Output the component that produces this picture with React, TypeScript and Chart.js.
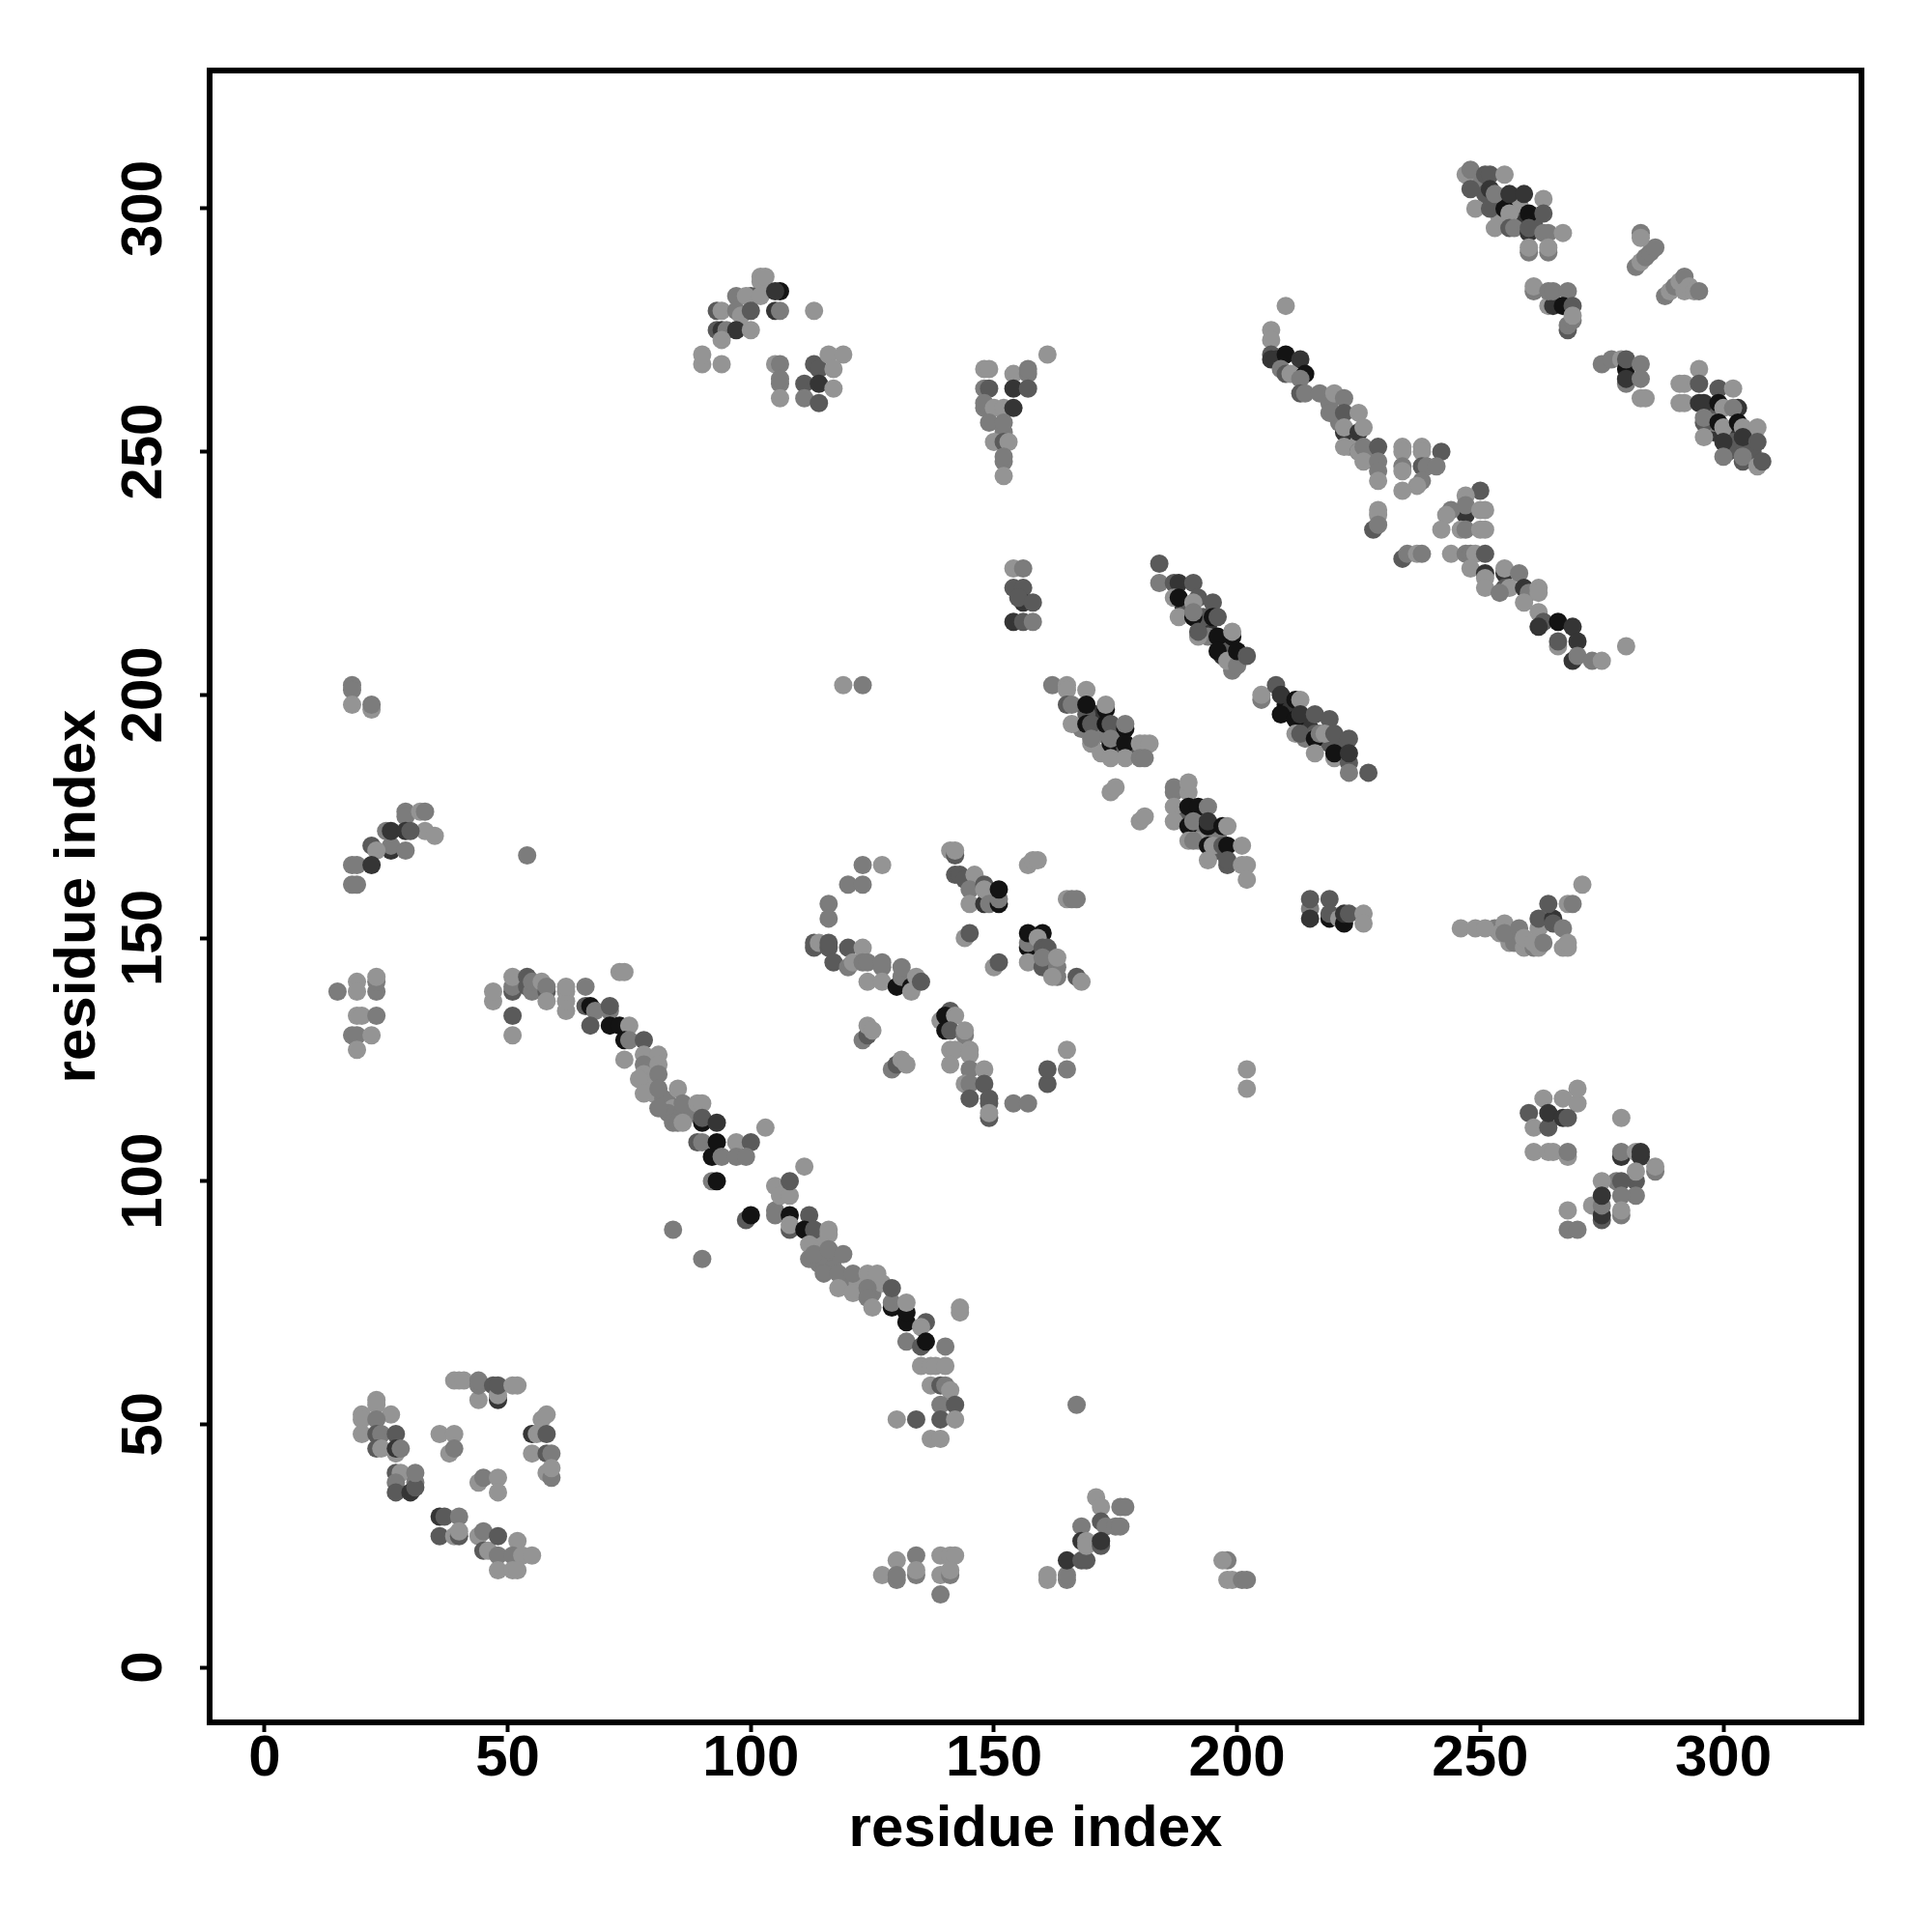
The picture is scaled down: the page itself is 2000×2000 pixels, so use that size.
import React, { useEffect, useRef } from "react";
import { Chart, registerables, LinearScale } from "chart.js";

const xTickValues = [0, 50, 100, 150, 200, 250, 300];
const yTickValues = [0, 50, 100, 150, 200, 250, 300];
const axisLabel = "residue index";
const axisMin = -11.3;
const axisMax = 328.4;
const shades = ["#949494", "#7c7c7c", "#5a5a5a", "#353535", "#131313"];

// every entry: [residue, residue, contact level], listed in drawing order
const denseFill = [[250,305,1],[251,303,2],[254,301,1],[255,302,1],[256,301,3],[258,298,2],[259,297,3],[261,297,2],[258,301,0],[254,298,0],[297,258,1],[298,258,2],[298,254,3],[301,254,3],[302,252,2],[301,250,2],[305,250,2],[306,250,2],[298,256,1],[219,260,1],[221,256,1],[223,253,0],[224,252,0],[227,249,1],[223,251,0],[189,218,3],[190,218,2],[193,214,4],[194,214,3],[197,211,4],[198,210,4],[193,216,2],[194,212,1],[197,208,3],[198,209,2],[210,198,4],[211,197,3],[214,194,3],[215,193,3],[218,192,3],[221,190,3],[219,190,2],[222,189,2],[216,192,2],[214,191,1],[171,196,3],[175,193,1],[172,192,1],[175,189,1],[172,188,0],[178,188,2],[168,193,1],[176,191,1],[189,175,2],[192,172,2],[193,171,1],[196,171,1],[188,176,2],[192,170,0],[196,168,2],[79,120,0],[80,118,0],[83,116,1],[82,117,1],[84,115,0],[87,114,0],[88,114,1],[79,124,1],[83,114,1],[86,114,1],[113,88,1],[114,87,0],[115,85,0],[117,84,1],[114,83,1],[117,82,1],[120,80,1],[122,79,0],[125,77,1],[127,79,0],[253,152,1],[254,151,0],[256,149,0],[257,149,1],[259,148,0],[261,148,1],[262,148,0],[267,148,0],[262,152,0]];
const topRight = [[247,307,0],[248,308,1],[248,304,2],[249,300,0],[251,307,2],[252,307,2],[255,307,0],[252,304,3],[252,300,2],[255,300,4],[253,303,1],[256,303,3],[259,303,3],[263,302,0],[256,299,0],[260,299,4],[263,299,2],[253,296,0],[256,296,2],[257,296,1],[260,295,3],[260,296,2],[263,295,1],[264,295,1],[267,295,0],[260,291,1],[260,292,0],[264,291,1],[264,292,0]];
const topRight2 = [[261,283,1],[261,284,0],[264,280,0],[265,280,3],[264,283,1],[265,283,1],[268,283,1],[267,280,4],[269,280,2],[268,275,2],[268,276,1],[269,277,1],[269,278,0]];
const wedgeA = [[282,288,1],[283,289,0],[284,290,1],[285,291,1],[286,292,1],[283,295,1],[283,294,0]];
const wedgeB = [[288,282,1],[289,283,0],[290,284,1],[291,285,0],[292,286,1],[292,283,0],[293,284,0],[294,283,0],[295,283,1]];
const rightMid = [[275,268,1],[277,269,1],[279,269,0],[280,267,4],[280,264,1],[280,265,3],[280,269,2],[283,268,1],[283,265,1],[283,261,0],[284,261,0]];
const rightLow = [[295,267,0],[291,264,0],[292,264,0],[295,264,2],[299,263,2],[302,263,0],[291,260,0],[292,260,0],[295,260,3],[296,260,3],[299,260,4],[300,259,0],[303,259,3],[302,259,1],[296,256,2],[296,257,1],[296,253,0],[299,256,4],[300,255,0],[303,256,4],[304,255,0],[307,255,0],[300,252,3],[304,252,2],[304,253,3],[307,252,2],[300,249,1],[304,248,2],[304,249,1],[307,247,0],[308,248,2]];
const longDiagTop = [[210,280,0],[207,275,0],[207,273,0],[207,270,2],[207,269,3],[208,269,3],[210,270,4],[213,269,3],[209,267,1],[210,266,2],[211,266,0],[214,266,4],[213,265,1],[213,262,2],[214,262,1],[217,262,1],[220,262,0],[222,261,1],[219,258,1],[222,258,2],[225,258,0],[222,254,3],[222,255,0],[225,254,3],[226,255,0],[222,251,0],[225,250,2],[225,250,0],[226,251,1],[226,248,0],[229,251,2],[229,248,1],[229,246,1],[229,244,0]];
const centerPatch = [[234,251,0],[234,250,0],[238,251,0],[238,250,0],[242,250,2],[234,247,1],[234,246,0],[238,247,2],[239,247,1],[241,247,1],[238,244,1],[237,243,0],[234,242,0]];
const stubA = [[229,238,0],[229,237,0],[228,234,2],[229,235,1]];
const stubB = [[234,228,2],[235,229,1],[237,229,0],[238,229,1]];
const bowTie = [[250,242,2],[247,241,0],[247,237,3],[247,239,1],[244,238,1],[243,237,0],[251,238,0],[250,238,0],[242,234,0],[246,234,0],[247,234,1],[250,234,0],[251,234,0]];
const longDiagLow = [[244,229,0],[247,229,1],[248,229,1],[249,229,0],[251,229,2],[248,226,0],[251,225,3],[251,224,0],[251,222,0],[255,225,3],[255,226,0],[258,225,1],[255,222,2],[256,222,0],[254,221,1],[259,222,3],[260,221,1],[262,222,0],[262,221,0],[259,219,0],[262,217,0],[263,215,2],[262,214,3],[266,215,4],[269,214,3],[266,210,0],[266,211,2],[270,211,3],[269,207,3],[270,208,1],[273,207,1],[275,207,0],[280,210,0]];
const stripeA = [[184,227,2],[184,223,1],[187,223,2],[188,223,3],[191,223,2],[187,220,0],[188,220,4],[188,216,0],[192,220,2],[195,219,2],[191,219,0],[191,216,4],[191,217,1],[195,216,4],[196,216,2],[192,212,0],[192,213,2],[196,212,4],[199,212,4],[199,213,0],[196,209,4],[199,205,1],[198,207,0],[200,206,1],[200,209,4],[202,208,2]];
const stripeB = [[205,199,1],[205,200,0],[208,202,2],[209,200,3],[212,199,4],[213,199,0],[209,196,4],[212,195,4],[213,196,3],[216,196,2],[219,195,2],[212,192,0],[213,192,2],[216,191,4],[217,192,1],[218,192,0],[220,192,2],[223,191,2],[216,188,0],[220,187,0],[220,188,4],[223,186,2],[223,188,3],[223,184,1],[227,184,2]];
const stripeC = [[162,202,1],[165,202,0],[165,201,0],[169,201,0],[165,198,2],[166,198,1],[169,196,2],[169,198,4],[173,197,4],[173,198,0],[166,194,0],[169,194,4],[170,194,2],[173,194,4],[174,194,2],[177,193,4],[177,194,1],[170,190,0],[170,191,1],[174,190,4],[174,191,1],[177,189,2],[177,190,4],[180,190,0],[181,190,0],[182,190,0],[174,187,0],[177,187,0],[180,187,1],[181,187,1]];
const dashes = [[174,180,0],[175,181,0],[180,174,0],[181,175,0]];
const stripeD = [[187,180,1],[187,181,1],[190,180,0],[190,182,0],[187,177,0],[190,177,4],[192,177,4],[194,177,1],[187,174,0],[190,173,4],[191,174,1],[194,173,4],[194,174,3],[197,173,4],[198,173,0],[190,170,0],[191,170,1],[194,169,4],[195,169,0],[197,169,2],[198,169,4],[201,169,0],[194,166,0],[198,165,2],[198,166,2],[201,165,0],[202,165,0],[202,162,0]];
const smallRight = [[215,156,1],[215,158,2],[215,154,3],[219,158,2],[219,154,4],[219,155,2],[221,154,0],[222,153,4],[222,155,3],[223,155,2],[226,155,0],[226,153,0]];
const band152 = [[246,152,0],[249,152,0],[251,152,0],[255,153,0],[255,151,1],[258,152,1],[259,150,0],[261,149,0],[263,149,1],[262,154,2],[265,154,3],[265,153,2],[268,157,0],[267,152,1],[264,157,2],[269,157,1],[268,148,0],[268,149,0],[271,161,0]];
const loopLeft = [[123,165,1],[127,165,0],[120,161,1],[123,161,1],[116,157,1],[116,154,1],[113,148,2],[113,149,2],[114,149,0],[116,148,2],[116,149,2],[117,145,2],[120,148,2],[123,148,0],[120,144,1],[121,145,0],[123,145,1],[124,145,1],[124,141,0],[127,144,1],[127,145,1],[127,141,0],[130,140,4],[131,142,1],[131,144,1],[133,140,4],[133,139,0],[134,142,0],[135,141,2]];
const loopTop = [[141,168,0],[142,167,2],[142,168,0],[142,163,2],[143,163,2],[144,162,2],[146,163,0],[145,160,1],[148,161,2],[145,157,0],[148,157,3],[148,160,0],[149,157,1],[151,157,4],[151,158,1],[151,160,4],[144,150,0],[145,151,2],[150,144,0],[151,145,2]];
const loopDashes = [[157,165,0],[158,166,0],[159,166,0],[165,158,0],[166,158,1],[167,158,1]];
const loopRight = [[157,148,4],[157,149,1],[157,151,4],[157,145,0],[160,151,4],[159,150,0],[160,148,2],[161,148,2],[160,144,2],[160,146,1],[163,142,1],[163,144,1],[163,146,0],[162,142,0],[167,142,2],[168,141,0]];
const loopLow = [[123,129,1],[124,130,2],[124,132,0],[125,131,0],[129,123,1],[130,124,2],[131,125,0],[132,124,0],[139,133,0],[141,135,2],[140,134,4],[142,134,0],[140,131,4],[141,131,2],[144,130,1],[144,131,0],[141,127,0],[142,127,0],[145,127,0],[145,126,0],[141,124,0],[145,123,1],[148,123,0],[144,120,0],[145,120,1],[148,120,2],[145,117,2],[149,116,2],[149,117,2],[149,113,2],[149,114,0],[154,116,1],[157,116,1],[161,120,2],[161,123,2],[165,123,1],[165,127,0]];
const helixUpper = [[47,137,0],[47,139,0],[51,139,2],[51,140,1],[51,142,0],[51,134,2],[51,130,0],[54,142,2],[54,140,2],[55,139,1],[55,141,1],[57,141,0],[58,139,2],[58,140,1],[58,137,0],[62,135,0],[62,137,0],[62,139,0],[62,140,0],[66,140,1],[73,143,0],[74,143,0],[66,136,2],[67,136,4],[68,135,1],[71,135,1],[71,136,2],[67,132,2],[71,132,4],[73,132,4],[75,132,0],[74,129,4],[75,129,1],[78,129,2],[74,125,0],[78,126,0],[78,124,1],[78,122,0],[77,121,0],[78,118,0],[81,126,0],[81,124,0],[81,122,1],[81,119,1],[81,115,1],[85,119,0],[84,112,1],[85,112,1],[86,116,1],[89,116,0],[90,116,0],[86,112,0],[90,112,4],[90,113,2],[93,112,3],[89,108,2],[90,108,1],[93,108,4],[97,108,0],[100,108,2],[103,111,0],[92,105,4],[94,105,1],[97,105,1],[99,105,1],[92,100,1],[93,100,4]];
const helixLower = [[84,90,1],[90,84,1],[99,92,2],[100,93,4],[105,94,1],[105,93,1],[105,99,0],[106,97,0],[108,97,0],[108,100,2],[111,103,0],[108,90,2],[108,93,4],[108,91,0],[112,93,2],[111,90,4],[113,90,2],[116,90,0],[116,89,0],[112,87,0],[112,84,1],[113,85,1],[116,86,1],[119,85,1],[115,81,1],[118,81,1],[121,81,1],[124,81,0],[126,81,0],[118,78,0],[121,77,0],[124,78,1],[124,76,1],[125,74,0],[129,74,4],[129,75,1],[129,78,2],[132,71,4],[132,73,4],[132,75,0],[136,71,2],[135,70,0],[132,67,1],[135,66,2],[136,67,4],[140,66,1],[143,73,0],[143,74,0],[135,62,0],[137,62,0],[138,62,0],[140,62,0],[137,58,0],[139,58,2],[140,58,1],[141,57,0],[139,54,1],[142,54,2],[139,51,2],[142,51,0],[130,51,0],[134,51,2],[137,47,0],[139,47,0]];
const bottomLeftA = [[23,55,0],[23,54,0],[20,52,0],[26,52,0],[20,51,0],[23,51,1],[20,48,0],[23,48,2],[24,48,1],[27,48,2],[23,45,2],[24,45,0],[27,44,0],[27,45,3],[28,45,1],[27,40,2],[28,40,0],[27,38,1],[27,36,2],[31,38,1],[30,36,3],[31,37,2],[31,40,1]];
const bottomLeftB = [[36,48,0],[39,48,0],[38,44,0],[39,45,1],[39,59,0],[40,59,0],[41,59,0],[44,55,0],[44,58,1],[44,59,1],[47,58,2],[48,55,3],[48,56,0],[48,58,2],[51,58,0],[52,58,0]];
const bottomLeftC = [[55,48,3],[56,48,0],[57,51,0],[58,52,0],[58,48,2],[55,44,0],[58,44,2],[59,44,1],[58,40,0],[59,39,1],[59,41,0],[44,38,0],[45,39,1],[48,39,0],[48,36,0]];
const bottomLeftD = [[36,31,3],[37,31,2],[40,31,1],[36,27,2],[39,27,0],[40,27,2],[40,28,0],[44,27,0],[45,28,1],[45,24,2],[46,24,0],[48,27,2],[48,23,1],[48,20,0],[52,26,0],[51,23,1],[53,23,0],[55,23,0],[51,20,0],[52,20,0]];
const bottomMid = [[127,19,0],[130,22,0],[130,18,1],[130,19,1],[134,23,1],[134,19,1],[134,20,0],[139,23,0],[139,19,0],[141,23,0],[142,23,0],[141,19,1],[141,20,0],[139,15,1]];
const bottomMid2 = [[161,18,0],[161,19,0],[165,18,1],[165,19,1],[165,22,3],[168,29,1],[168,22,2],[169,22,2],[168,26,3],[169,26,0],[169,25,0],[171,35,0],[172,33,0],[172,30,2],[173,29,1],[172,25,2],[172,26,3],[175,29,1],[176,29,1],[176,33,1],[177,33,1],[198,22,1],[197,22,0],[198,18,0],[199,18,0],[201,18,1],[202,18,1]];
const rightCluster = [[260,114,2],[263,117,0],[267,117,0],[270,116,0],[270,119,0],[261,111,0],[264,111,2],[264,114,3],[267,113,3],[268,113,2],[261,106,0],[264,106,0],[265,106,0],[268,105,0],[268,106,1],[279,113,0],[279,105,3],[279,106,1],[282,106,0],[283,105,3],[283,106,3],[286,102,1],[286,103,0],[282,100,2],[282,102,0],[282,97,1],[278,100,1],[279,100,2],[275,100,0],[279,97,1],[273,95,0],[275,92,2],[275,93,3],[275,95,1],[275,97,3],[279,93,1],[279,94,0],[268,94,0],[268,90,1],[270,90,1]];
const leftEdge = [[18,202,1],[18,201,1],[18,198,0],[22,197,0],[22,198,1],[29,176,1],[29,175,1],[32,176,0],[33,176,1],[33,172,0],[35,171,0],[25,172,1],[26,168,3],[26,169,1],[26,172,3],[29,172,3],[30,172,2],[22,169,2],[23,168,0],[29,168,1],[18,165,1],[19,165,1],[22,165,3],[18,161,1],[19,161,1],[54,167,1],[15,139,1],[19,141,0],[19,139,0],[23,139,1],[23,141,1],[23,142,0],[19,134,0],[20,134,0],[23,134,1],[18,130,1],[19,130,1],[22,130,0],[19,127,0]];
const singles = [[167,54,1],[202,123,0],[202,119,0],[119,202,0],[123,202,1]];
const upperLeftA = [[102,285,0],[102,286,0],[103,286,0],[97,282,1],[100,282,2],[99,282,0],[102,282,0],[93,279,2],[94,279,0],[97,279,1],[98,278,0],[100,279,2],[106,283,4],[105,283,3],[105,279,3],[106,279,1],[113,279,0],[93,275,2],[94,275,3],[95,275,1],[97,275,3],[100,275,0],[94,273,0],[90,268,0],[90,270,0],[94,268,0],[105,268,0],[106,268,1],[106,264,1],[106,265,1],[106,261,0]];
const upperLeftB = [[113,268,2],[114,267,2],[116,270,0],[119,270,0],[117,267,0],[111,264,2],[114,264,3],[117,263,0],[111,261,1],[114,260,2]];
const upperStem = [[161,270,0],[148,267,0],[149,267,0],[148,263,1],[149,263,2],[154,266,0],[157,266,1],[157,267,1],[154,263,3],[157,263,2],[148,259,1],[148,260,1],[150,259,0],[152,259,0],[154,259,3],[149,256,1],[152,254,1],[152,256,1],[150,252,0],[152,252,2],[153,252,0],[152,248,1],[152,249,1],[152,245,0]];
const stemRight = [[154,226,0],[156,226,1],[154,222,2],[156,222,2],[156,219,3],[155,220,2],[154,215,3],[158,219,2],[156,215,2],[158,215,1]];

const contacts = [...denseFill, ...topRight, ...topRight2, ...wedgeA, ...wedgeB, ...rightMid, ...rightLow, ...longDiagTop, ...centerPatch, ...stubA, ...stubB, ...bowTie, ...longDiagLow, ...stripeA, ...stripeB, ...stripeC, ...dashes, ...stripeD, ...smallRight, ...band152, ...loopLeft, ...loopTop, ...loopDashes, ...loopRight, ...loopLow, ...helixUpper, ...helixLower, ...bottomLeftA, ...bottomLeftB, ...bottomLeftC, ...bottomLeftD, ...bottomMid, ...bottomMid2, ...rightCluster, ...leftEdge, ...singles, ...upperLeftA, ...upperLeftB, ...upperStem, ...stemRight];

class RotatedLinear extends LinearScale {
  static id = "rotatedLinear";
  static defaults = LinearScale.defaults;
  _computeLabelItems(area: any) {
    const items = super._computeLabelItems(area);
    for (const it of items) {
      it.options.textAlign = "center";
      it.options.textBaseline = "middle";
      it.options.translation = [150, it.options.translation[1]];
    }
    return items;
  }
}

Chart.register(...registerables, RotatedLinear);

const frame = {
  id: "frame",
  afterDraw(chart: any) {
    const { ctx, chartArea: a } = chart;
    ctx.save();
    ctx.strokeStyle = "#000";
    ctx.lineWidth = 6;
    ctx.strokeRect(a.left, a.top, a.right - a.left, a.bottom - a.top);
    ctx.restore();
  },
};

const tickFont = { family: "'Liberation Sans'", size: 60, weight: "bold" as const };

export default function App() {
  const ref = useRef<HTMLCanvasElement>(null);
  useEffect(() => {
    const chart = new Chart(ref.current!, {
      type: "scatter",
      data: {
        datasets: [
          {
            data: contacts.map(([x, y]) => ({ x, y })),
            pointRadius: 9.5,
            pointHoverRadius: 9.5,
            pointBorderWidth: 0,
            pointBackgroundColor: contacts.map((c) => shades[c[2]]),
          },
        ],
      },
      plugins: [frame],
      options: {
        animation: false,
        responsive: false,
        layout: { padding: { top: 73, right: 73, left: 0, bottom: 0 } },
        plugins: { legend: { display: false }, tooltip: { enabled: false } },
        scales: {
          x: {
            type: "linear",
            min: axisMin,
            max: axisMax,
            afterBuildTicks: (s: any) => { s.ticks = xTickValues.map((value) => ({ value })); },
            afterFit: (s: any) => { s.height = 217; },
            border: { display: false },
            grid: { drawOnChartArea: false, drawTicks: true, tickLength: 10, tickWidth: 4, tickColor: "#000" },
            ticks: { color: "#000", font: tickFont, padding: -8, maxRotation: 0, autoSkip: false },
            title: { display: true, text: axisLabel, color: "#000", font: tickFont, padding: { top: 0, bottom: 70 } },
          },
          y: {
            type: "rotatedLinear" as any,
            min: axisMin,
            max: axisMax,
            afterBuildTicks: (s: any) => { s.ticks = yTickValues.map((value) => ({ value })); },
            afterFit: (s: any) => { s.width = 217; },
            border: { display: false },
            grid: { drawOnChartArea: false, drawTicks: true, tickLength: 10, tickWidth: 4, tickColor: "#000" },
            ticks: { color: "#000", font: tickFont, padding: 5, minRotation: 90, maxRotation: 90, autoSkip: false },
            title: { display: true, text: axisLabel, color: "#000", font: tickFont, padding: { top: 45, bottom: 0 } },
          },
        },
      },
    });
    return () => chart.destroy();
  }, []);
  return (
    <div style={{ position: "absolute", left: 0, top: 0, width: 2000, height: 2000, background: "#fff" }}>
      <canvas ref={ref} width={2000} height={2000} style={{ display: "block" }} />
    </div>
  );
}
